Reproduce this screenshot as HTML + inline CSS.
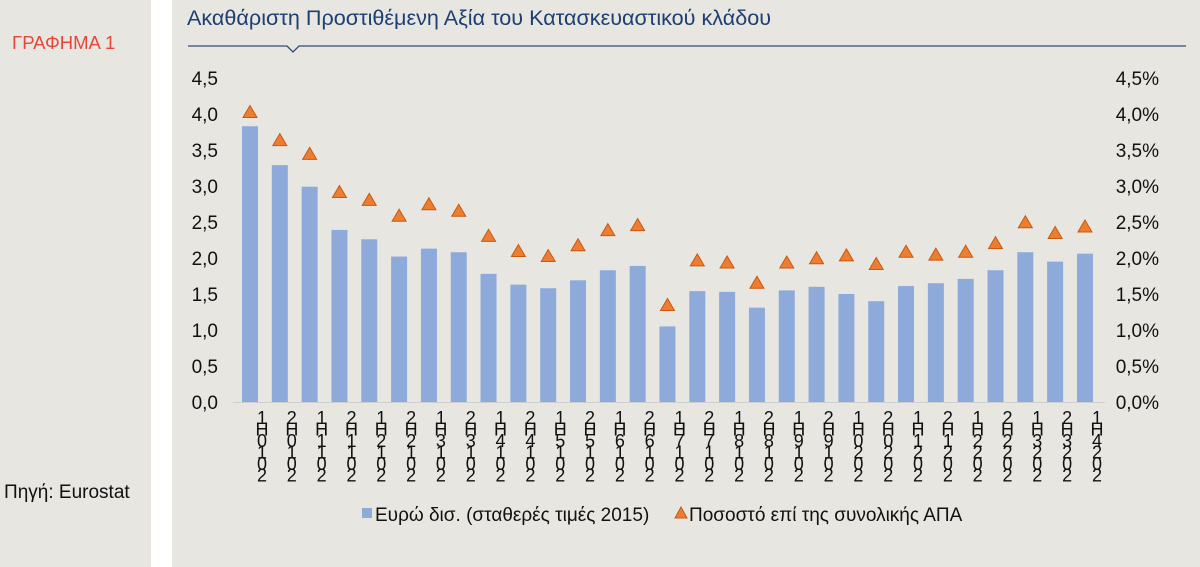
<!DOCTYPE html>
<html><head><meta charset="utf-8"><style>
body{margin:0;width:1200px;height:567px;background:#e7e6e1;font-family:"Liberation Sans",sans-serif;overflow:hidden;position:relative}
.t{position:absolute;white-space:nowrap}
</style></head><body>
<div style="position:absolute;left:151px;top:0;width:21px;height:567px;background:#fff"></div>
<div class="t" style="left:12px;top:32px;font-size:18.5px;color:#e5473a">ΓΡΑΦΗΜΑ 1</div>
<div class="t" style="left:4px;top:482px;font-size:19px;color:#111">Πηγή: Eurostat</div>
<div class="t" style="left:187px;top:5px;font-size:21.6px;color:#1e3f72">Ακαθάριστη Προστιθέμενη Αξία του Κατασκευαστικού κλάδου</div>
<svg id="c" width="1200" height="567" style="position:absolute;left:0;top:0" font-family="Liberation Sans, sans-serif">
<polyline points="188,46 287,46 293,52 299,46 1186,46" fill="none" stroke="#2f4b74" stroke-width="1.3"/>
</svg>
<script>
const categories=["1H2010","2H2010","1H2011","2H2011","1H2012","2H2012","1H2013","2H2013","1H2014","2H2014","1H2015","2H2015","1H2016","2H2016","1H2017","2H2017","1H2018","2H2018","1H2019","2H2019","1H2020","2H2020","1H2021","2H2021","1H2022","2H2022","1H2023","2H2023","1H2024"];
const barValues=[3.83,3.29,2.99,2.39,2.26,2.02,2.13,2.08,1.78,1.63,1.58,1.69,1.83,1.89,1.05,1.54,1.53,1.31,1.55,1.60,1.50,1.40,1.61,1.65,1.71,1.83,2.08,1.95,2.06];
const shareValues=[4.02,3.63,3.44,2.91,2.80,2.58,2.74,2.65,2.30,2.09,2.02,2.17,2.38,2.45,1.34,1.96,1.93,1.65,1.93,1.99,2.03,1.91,2.08,2.04,2.08,2.20,2.49,2.34,2.43];
const leftTicks=["0,0","0,5","1,0","1,5","2,0","2,5","3,0","3,5","4,0","4,5"];
const rightTicks=["0,0%","0,5%","1,0%","1,5%","2,0%","2,5%","3,0%","3,5%","4,0%","4,5%"];
const svg=document.getElementById('c');const NS='http://www.w3.org/2000/svg';
const y0=402,pxPer=72;
const y=v=>y0-v*pxPer;
const x=i=>250+i*29.82;
function mk(t,a){const e=document.createElementNS(NS,t);for(const k in a)e.setAttribute(k,a[k]);svg.appendChild(e);return e;}
let ax=mk('line',{x1:233,x2:1105,y1:y0+0.5,y2:y0+0.5,stroke:'#cfcfcf','stroke-width':1});


leftTicks.forEach((s,i)=>{const t=mk('text',{x:218,y:y(i*0.5)+7,'text-anchor':'end','font-size':19,fill:'#111'});t.textContent=s;

});
rightTicks.forEach((s,i)=>{const t=mk('text',{x:1159,y:y(i*0.5)+7,'text-anchor':'end','font-size':19,fill:'#111'});t.textContent=s;

});
barValues.forEach((v,i)=>{const r=mk('rect',{x:x(i)-8,y:y(v),width:16,height:v*pxPer,fill:'#8eaadb'});

});
shareValues.forEach((v,i)=>{const cx=x(i),cy=y(v);const p=mk('polygon',{points:`${cx},${cy-7} ${cx-7},${cy+5} ${cx+7},${cy+5}`,fill:'#ed7d31',stroke:'#c55a11','stroke-width':1});

});
categories.forEach((c,i)=>{const ch=(c[0]+'Η'+c.slice(2)).split('');const chars=[ch[0],ch[1]].concat(ch.slice(2).reverse());
const t=mk('text',{'font-size':18,fill:'#111','text-anchor':'middle'});


chars.forEach((k,j)=>{const s=document.createElementNS(NS,'tspan');s.setAttribute('x',x(i)+12);s.setAttribute('y',424+j*11.5);s.textContent=k;t.appendChild(s);});});
let lb=mk('rect',{x:362,y:508,width:10,height:10,fill:'#8eaadb'});


let lt=mk('text',{x:375,y:521,'font-size':19,fill:'#111'});lt.textContent='Ευρώ δισ. (σταθερές τιμές 2015)';


let lm=mk('polygon',{points:'681,507 675,518 687,518',fill:'#ed7d31',stroke:'#c55a11'});


let lt2=mk('text',{x:689,y:521,'font-size':19,fill:'#111'});lt2.textContent='Ποσοστό επί της συνολικής ΑΠΑ';


</script>
</body></html>
